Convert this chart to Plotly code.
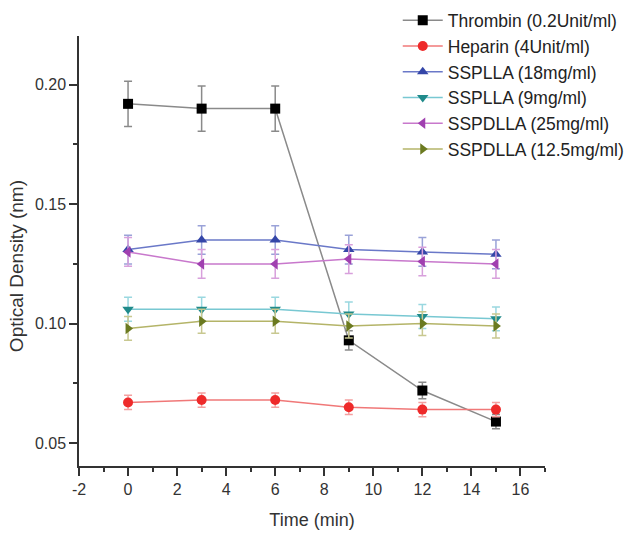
import plotly.graph_objects as go

time = [0, 3, 6, 9, 12, 15]

names = ["Thrombin (0.2Unit/ml)", "Heparin (4Unit/ml)", "SSPLLA (18mg/ml)",
         "SSPLLA (9mg/ml)", "SSPDLLA (25mg/ml)", "SSPDLLA (12.5mg/ml)"]

thrombin = [0.192, 0.190, 0.190, 0.093, 0.072, 0.059]
thrombin_err = [0.0095, 0.0095, 0.0095, 0.004, 0.0035, 0.003]
heparin = [0.067, 0.068, 0.068, 0.065, 0.064, 0.064]
heparin_err = [0.003, 0.003, 0.003, 0.003, 0.003, 0.003]
sspll18 = [0.131, 0.135, 0.135, 0.131, 0.130, 0.129]
sspll18_err = [0.006, 0.006, 0.006, 0.006, 0.006, 0.006]
sspll9 = [0.106, 0.106, 0.106, 0.104, 0.103, 0.102]
sspll9_err = [0.005, 0.005, 0.005, 0.005, 0.005, 0.005]
sspdl25 = [0.130, 0.125, 0.125, 0.127, 0.126, 0.125]
sspdl25_err = [0.006, 0.006, 0.006, 0.006, 0.006, 0.006]
sspdl125 = [0.098, 0.101, 0.101, 0.099, 0.100, 0.099]
sspdl125_err = [0.005, 0.005, 0.005, 0.005, 0.005, 0.005]

x_ticks = [-2, 0, 2, 4, 6, 8, 10, 12, 14, 16]
x_ticklabels = ["-2", "0", "2", "4", "6", "8", "10", "12", "14", "16"]
y_ticks = [0.05, 0.10, 0.15, 0.20]
y_ticklabels = ["0.05", "0.10", "0.15", "0.20"]

series = [thrombin, heparin, sspll18, sspll9, sspdl25, sspdl125]
errors = [thrombin_err, heparin_err, sspll18_err, sspll9_err, sspdl25_err, sspdl125_err]

symbols = ["square", "circle", "triangle-up", "triangle-down", "triangle-left", "triangle-right"]
marker_colors = ["#000000", "#ee2a2a", "#3446a8", "#1f8a8a", "#a040b0", "#6b7a20"]
line_colors = ["#8a8a8a", "#f07878", "#6a78c8", "#78c8d2", "#c878cc", "#b4b468"]
err_colors = ["#8a8a8a", "#f4a0a0", "#9aa2d8", "#9ad8e0", "#d8a0dc", "#c8c890"]

fig = go.Figure()
for n, y, e, s, mc, lc, ec in zip(names, series, errors, symbols, marker_colors, line_colors, err_colors):
    fig.add_trace(go.Scatter(
        x=time, y=y, name=n, mode="lines+markers",
        line=dict(color=lc, width=1.5),
        marker=dict(symbol=s, color=mc, size=10),
        error_y=dict(type="data", array=e, visible=True, color=ec, thickness=1.5, width=4),
    ))

fig.add_annotation(
    text="Optical Density (nm)", textangle=-90, showarrow=False,
    xref="paper", yref="paper", x=-0.135, y=0.465, xanchor="center", yanchor="middle",
    font=dict(size=19, color="#333333"),
)

fig.update_layout(
    width=634, height=537,
    margin=dict(l=79, r=89, t=36, b=71, autoexpand=False),
    paper_bgcolor="white", plot_bgcolor="white",
    font=dict(family="Arial, Liberation Sans, sans-serif", color="#222222"),
    showlegend=True,
    legend=dict(x=0.684, y=1.078, xanchor="left", yanchor="top",
                font=dict(size=17.5, color="#222222"), bgcolor="rgba(0,0,0,0)",
                tracegroupgap=0, itemwidth=40),
    xaxis=dict(
        range=[-2, 17], tickmode="array", tickvals=x_ticks, ticktext=x_ticklabels,
        showgrid=False, zeroline=False, showline=True, linecolor="#333333", linewidth=1.5,
        ticks="outside", ticklen=8, tickwidth=1.5, tickcolor="#333333",
        tickfont=dict(size=16, color="#333333"),
        minor=dict(tickvals=list(range(-1, 18, 2)), ticks="outside", ticklen=4, tickwidth=1.5, tickcolor="#333333"),
        title=dict(text="Time (min)", font=dict(size=18, color="#333333"), standoff=16),
    ),
    yaxis=dict(
        range=[0.0404, 0.2204], tickmode="array", tickvals=y_ticks, ticktext=y_ticklabels,
        showgrid=False, zeroline=False, showline=True, linecolor="#333333", linewidth=1.5,
        ticks="outside", ticklen=8, tickwidth=1.5, tickcolor="#333333",
        tickfont=dict(size=16, color="#333333"),
        minor=dict(tickvals=[0.075, 0.125, 0.175], ticks="outside", ticklen=4, tickwidth=1.5, tickcolor="#333333"),
    ),
)

fig.write_html("out.html")
